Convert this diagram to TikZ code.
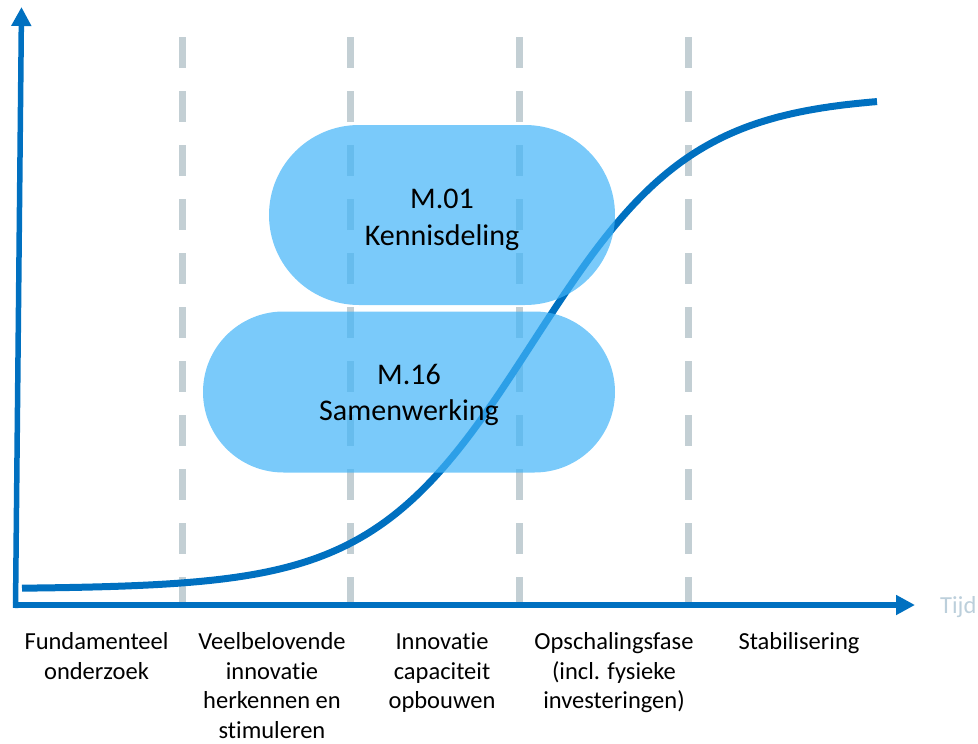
\documentclass[tikz,border=0pt]{standalone}
\usepackage{fontspec}
\setmainfont{Carlito}[Ligatures={NoCommon}]
\usetikzlibrary{arrows.meta,shapes.misc}
\definecolor{axisblue}{RGB}{0,112,192}
\definecolor{phasegray}{RGB}{195,207,212}
\definecolor{pillblue}{RGB}{65,180,248}
\definecolor{tijdgray}{RGB}{188,207,219}
\tikzset{
  axisline/.style={draw=axisblue, line width=5.5pt, -{Triangle[length=19pt,width=19pt]}},
  phaseline/.style={draw=phasegray, line width=7pt, dash pattern=on 31pt off 23pt},
  scurve/.style={draw=axisblue, line width=7pt},
  pill/.style={rounded rectangle, fill=pillblue, fill opacity=0.7, inner sep=0pt},
  pilltext/.style={inner sep=0pt, align=center, font=\fontsize{30}{36.6}\selectfont},
  phaselabel/.style={anchor=north, inner sep=0pt, align=center,
    font=\fontsize{24.5}{29.9}\selectfont},
}
\begin{document}
\begin{tikzpicture}[x=1pt,y=-1pt]
\useasboundingbox (0,0) rectangle (978,744);
% phase separators
\foreach \xx in {182,350,519,688} \draw[phaseline] (\xx,37) -- (\xx,605);
% axes
\coordinate (origin) at (15.5,608);
\coordinate (ytip) at (21.5,7);
\coordinate (xstart) at (12.5,605);
\coordinate (xtip) at (915,605);
\draw[axisline] (origin) -- (ytip);
\draw[axisline] (xstart) -- (xtip);
% S-curve (logistic)
\draw[scurve] plot[domain=22:877, samples=220, smooth]
  (\x, {589-494/(1+exp(-0.0125*(\x-533)))});
% pills
\node[pill, minimum width=346pt, minimum height=180pt] (m01) at (442,215) {};
\node[pill, minimum width=412pt, minimum height=161pt] (m16) at (409,392) {};
\node[pilltext] (m01t) at (442,220) {M.01\\Kennisdeling};
\node[pilltext] (m16t) at (409,395) {M.16\\Samenwerking};
% axis label
\node[anchor=base west, inner sep=0pt, text=tijdgray, font=\fontsize{24.5}{29.9}\selectfont] (tijd) at (940,613) {Tijd};
% phase labels
\node[phaselabel] (p1) at (96.5,628) {\strut Fundamenteel\\onderzoek};
\node[phaselabel] (p2) at (272,628) {\strut Veelbelovende\\innovatie\\herkennen en\\stimuleren};
\node[phaselabel] (p3) at (442,628) {\strut Innovatie\\capaciteit\\opbouwen};
\node[phaselabel] (p4) at (614,628) {\strut Opschalingsfase\\(incl. fysieke\\investeringen)};
\node[phaselabel] (p5) at (799,628) {\strut Stabilisering};
\end{tikzpicture}
\end{document}
